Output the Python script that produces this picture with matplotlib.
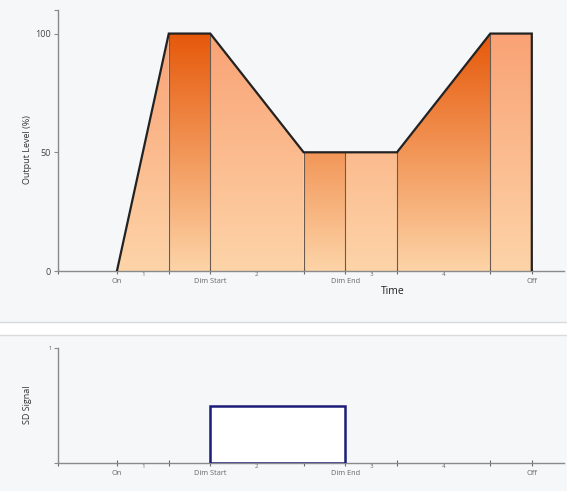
import numpy as np
import matplotlib
matplotlib.use("Agg")
import matplotlib.pyplot as plt
from matplotlib.colors import LinearSegmentedColormap
from matplotlib.patches import Polygon, Rectangle

plt.rcParams['font.family'] = ['Open Sans', 'DejaVu Sans']

# dimming profile (time units, output level %)
times = [0, 1.25, 2.25, 4.5, 5.5, 6.75, 9, 10]
levels = [0, 100, 100, 50, 50, 50, 100, 100]
event_names = ["On", "Dim Start", "Dim End", "Off"]
event_times = [0, 2.25, 5.5, 10]
segment_names = ["1", "2", "3", "4"]
segment_index = [0, 2, 4, 5]     # segment i runs from times[i] to times[i+1]

# SD signal pulse
sd_start, sd_end, sd_level = 2.25, 5.5, 0.5

bg = "#f6f7f9"
dark_cmap = LinearSegmentedColormap.from_list("dark", ["#fdd4a8", "#f29658", "#e6580a"])
light_cmap = LinearSegmentedColormap.from_list("light", ["#fdd4a8", "#fbbb8e", "#f9a275"])

fig = plt.figure(figsize=(5.67, 4.91), dpi=100, facecolor=bg)

# separator band between the two panels
fig.patches.append(Rectangle((0, 1 - 335 / 491), 1, 13 / 491, transform=fig.transFigure,
                             facecolor="white", edgecolor="none", zorder=0))
for yy in (322, 335):
    fig.add_artist(plt.Line2D([0, 1], [1 - yy / 491] * 2, transform=fig.transFigure,
                              color="#d9dadc", lw=1))

xlim = (-1.42, 10.78)
ax = fig.add_axes([0.1023, 0.448, 0.8927, 0.532], facecolor=bg)
ax.set_xlim(*xlim)
ax.set_ylim(0, 110)

# gradient fill, alternating dark / light segments
grad = np.linspace(0, 1, 256).reshape(-1, 1) * np.ones((1, 2))
for i in range(len(times) - 1):
    verts = [(times[i], 0), (times[i], levels[i]), (times[i + 1], levels[i + 1]), (times[i + 1], 0)]
    poly = Polygon(verts, closed=True, facecolor="none", edgecolor="none")
    ax.add_patch(poly)
    cmap = dark_cmap if i % 2 == 1 else light_cmap
    im = ax.imshow(grad, cmap=cmap, vmin=0, vmax=1, origin="lower", aspect="auto",
                   extent=[times[i], times[i + 1], 0, 100], zorder=1)
    im.set_clip_path(poly)

# vertical separators
for t, lv in zip(times[1:-1], levels[1:-1]):
    ax.plot([t, t], [0, lv], color="#6b5a50", lw=0.8, zorder=2)

# outline
ax.plot(times + [times[-1]], levels + [0], color="#222222", lw=1.6, zorder=3,
        solid_joinstyle="miter")
ax.set_aspect("auto")


def style_axis(a):
    for s in ("top", "right"):
        a.spines[s].set_visible(False)
    for s in ("left", "bottom"):
        a.spines[s].set_color("#8a8a8a")
        a.spines[s].set_linewidth(1.0)
    a.tick_params(axis="y", colors="#8a8a8a", labelcolor="#444444", labelsize=6.5,
                  length=3, width=0.8, direction="out", pad=2)
    a.tick_params(axis="x", which="major", colors="#6a6a6a", labelcolor="#666666",
                  labelsize=5.3, length=4, width=0.8, direction="inout", pad=3)
    a.tick_params(axis="x", which="minor", length=0, labelsize=4.5,
                  labelcolor="#666666", pad=1)
    a.set_xticks(times[1:] + [xlim[0]])
    a.set_xticklabels(["" if t not in event_times else event_names[event_times.index(t)]
                       for t in times[1:]] + [""])
    a.set_xticks([(times[j] + times[j + 1]) / 2 for j in segment_index], minor=True)
    a.set_xticklabels(segment_names, minor=True)


style_axis(ax)
ax.set_xticks([0] + list(ax.get_xticks()))
ax.set_xticklabels(["On"] + [l.get_text() for l in ax.get_xticklabels()[1:]])
ax.set_yticks([0, 50, 100, 110])
ax.set_yticklabels(["0", "50", "100", ""])

fig.text(28 / 567, 1 - 150 / 491, "Output Level (%)", rotation=90, ha="center", va="center",
         fontsize=6.5, color="#333333")
fig.text(393 / 567, 1 - 291 / 491, "Time", ha="center", va="center", fontsize=7.5,
         color="#222222")

# SD signal panel
ax2 = fig.add_axes([0.1023, 0.057, 0.8927, 0.234], facecolor=bg)
ax2.set_xlim(*xlim)
ax2.set_ylim(0, 1)
ax2.add_patch(Rectangle((sd_start, 0), sd_end - sd_start, sd_level, facecolor="white",
                        edgecolor="#1c1c7a", lw=1.8, zorder=3))
style_axis(ax2)
ticks2 = [xlim[0]] + times
labels2 = [""] + ["" if t not in event_times else event_names[event_times.index(t)] for t in times]
ax2.set_xticks(ticks2)
ax2.set_xticklabels(labels2)
ax2.set_yticks([0, 1])
ax2.set_yticklabels(["", "1"], fontsize=3.5)

fig.text(28 / 567, 1 - 405 / 491, "SD Signal", rotation=90, ha="center", va="center",
         fontsize=6.5, color="#333333")

fig.savefig("out.png", dpi=100, facecolor=bg)
